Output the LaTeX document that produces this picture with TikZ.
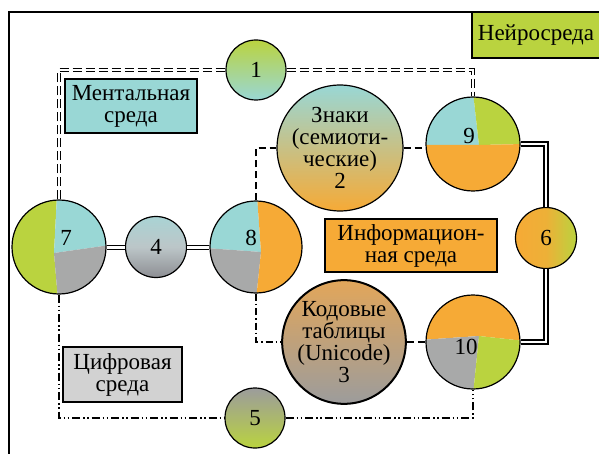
\documentclass[tikz,border=0pt]{standalone}
\usepackage{fontspec}
\setmainfont{Liberation Serif}
\usetikzlibrary{positioning}

\definecolor{neurocol}{HTML}{BAD33F}
\definecolor{mentcol}{HTML}{99D7D5}
\definecolor{infocol}{HTML}{F6AA36}
\definecolor{digitcol}{HTML}{A8A9A9}
\definecolor{digitbox}{HTML}{D2D2D2}
\definecolor{codetop}{HTML}{E2A65A}
\definecolor{codebot}{HTML}{9C9C9C}
\definecolor{slatetop}{HTML}{A9D3D4}
\definecolor{slatemid}{HTML}{BCC6C8}
\definecolor{slatebot}{HTML}{8D8E93}

\begin{document}
\begin{tikzpicture}[x=1pt,y=-1pt,
  every node/.style={font=\fontsize{23}{22}\selectfont},
  ball/.style={circle,draw,line width=1.2pt,inner sep=0pt},
  envbox/.style={draw,line width=1.2pt,inner sep=0pt,align=center},
  mentline/.style={double,double distance=2pt,line width=1.3pt,dash pattern=on 9pt off 4pt},
  infoline/.style={line width=1.2pt,dash pattern=on 7pt off 4pt},
  codeline/.style={line width=1.2pt,dash pattern=on 7pt off 3pt on 1.5pt off 3pt},
  digitline/.style={line width=1.2pt,dash pattern=on 8pt off 3pt on 1.5pt off 2.5pt on 1.5pt off 3pt},
  neuroline/.style={double,double distance=2pt,line width=1.6pt}]
\useasboundingbox (0,0) rectangle (599,454);

% outer frame
\draw[line width=1.2pt] (9,470) -- (9,12) -- (620,12);

% environments
\node[envbox,fill=neurocol,minimum width=128pt,minimum height=46pt] (neuro) at (536,35) {Нейросреда};
\node[envbox,fill=mentcol,minimum width=132pt,minimum height=54pt] (ment) at (131,106) {Ментальная\\среда};
\node[envbox,fill=infocol,minimum width=172pt,minimum height=53pt] (info) at (411,245.5) {Информацион-\\ная среда};
\node[envbox,fill=digitbox,minimum width=119pt,minimum height=55pt] (digit) at (122.5,374.5) {Цифровая\\среда};

% pie circles
\begin{scope}
  \clip (59,247) circle (47pt);
  \fill[neurocol] (0,195) -- (57,195) -- (54,253) -- (58,300) -- (0,300) -- cycle;
  \fill[mentcol] (57,195) -- (54,253) -- (110,245) -- (110,195) -- cycle;
  \fill[digitcol] (54,253) -- (110,245) -- (110,300) -- (58,300) -- cycle;
\end{scope}
\begin{scope}
  \clip (256,247) circle (46pt);
  \fill[mentcol] (205,195) -- (257,195) -- (261,252) -- (205,248) -- cycle;
  \fill[digitcol] (205,248) -- (261,252) -- (256,300) -- (205,300) -- cycle;
  \fill[infocol] (257,195) -- (310,195) -- (310,300) -- (256,300) -- (261,252) -- cycle;
\end{scope}
\begin{scope}
  \clip (473,144) circle (47pt);
  \fill[mentcol] (420,92) -- (473,92) -- (479,145) -- (420,145) -- cycle;
  \fill[neurocol] (473,92) -- (525,92) -- (525,144) -- (479,145) -- cycle;
  \fill[infocol] (420,145) -- (479,145) -- (525,144) -- (525,196) -- (420,196) -- cycle;
\end{scope}
\begin{scope}
  \clip (473,342) circle (47pt);
  \fill[infocol] (420,290) -- (525,290) -- (525,341) -- (479,336) -- (420,340) -- cycle;
  \fill[digitcol] (420,340) -- (479,336) -- (473,395) -- (420,395) -- cycle;
  \fill[neurocol] (479,336) -- (525,341) -- (525,395) -- (473,395) -- cycle;
\end{scope}

% circles
\node[ball,minimum size=60pt,top color=neurocol,bottom color=mentcol] (n1) at (256,70) {1};
\node[ball,minimum size=120pt,top color=mentcol,bottom color=infocol,middle color=mentcol!50!infocol,align=center] (n2) at (340,148) {Знаки\\(семиоти-\\ческие)\\2};
\node[ball,minimum size=121pt,line width=2pt,top color=codetop,bottom color=codebot,align=center] (n3) at (344,342) {Кодовые\\таблицы\\(Unicode)\\3};
\node[ball,minimum size=61pt,top color=slatetop,bottom color=slatebot,middle color=slatemid] (n4) at (156,247) {4};
\node[ball,minimum size=60pt,top color=codebot,bottom color=neurocol] (n5) at (255,418) {5};
\node[ball,minimum size=61pt,left color=infocol,right color=neurocol,middle color=infocol!85!neurocol] (n6) at (546,238) {6};
\node[ball,minimum size=94pt] (n7) at (59,247) {};
\node[ball,minimum size=92pt] (n8) at (256,247) {};
\node[ball,minimum size=94pt] (n9) at (473,144) {};
\node[ball,minimum size=94pt] (n10) at (473,342) {};
\node (t7) at (66,238) {7};
\node (t8) at (251,238) {8};
\node (t9) at (469,136) {9};
\node (t10) at (466,347) {10};

% connections
\draw[mentline] (n7.north) |- (n1.west);
\draw[mentline] (n1.east) -| (n9.north);
\draw[infoline] (n8.north) |- (n2.west);
\draw[infoline] (n2.east) -- (n2.east -| n9.west);
\draw[infoline] (n3.east) -- (n10.west);
\draw[codeline] (n8.south) |- (n3.west);
\draw[digitline] (n7.south) |- (n5.west);
\draw[digitline] (n5.east) -| (n10.south);
\draw[neuroline] (n9.east) -| (n6.north);
\draw[neuroline] (n10.east) -| (n6.south);
\draw[neuroline,line width=1pt,double distance=3pt] (n7.east) -- (n4.west);
\draw[neuroline,line width=1pt,double distance=3pt] (n4.east) -- (n8.west);
\end{tikzpicture}
\end{document}
